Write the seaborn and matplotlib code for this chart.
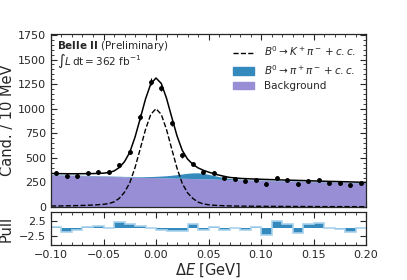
import numpy as np
import seaborn as sns
import matplotlib.pyplot as plt
from matplotlib.patches import Patch
from matplotlib.lines import Line2D

# binned data (bin centres, 10 MeV bins)
bin_centers = [-0.095, -0.085, -0.075, -0.065, -0.055, -0.045, -0.035, -0.025, -0.015, -0.005,
               0.005, 0.015, 0.025, 0.035, 0.045, 0.055, 0.065, 0.075, 0.085, 0.095,
               0.105, 0.115, 0.125, 0.135, 0.145, 0.155, 0.165, 0.175, 0.185, 0.195]
counts = [346, 315, 315, 346, 356, 356, 431, 560, 916, 1276,
          1210, 852, 526, 435, 356, 346, 299, 282, 261, 275,
          234, 295, 272, 231, 268, 272, 248, 248, 224, 248]
pulls = [0.6, -1.1, -0.6, 0.5, 0.7, 0.2, 2.0, 1.4, 0.8, 0.2,
         -0.5, -0.8, -0.8, 1.3, -0.4, 0.5, -0.4, 0.1, -0.4, 0.4,
         -1.9, 2.2, 1.3, -1.5, 1.3, 1.7, 0.0, -0.1, -1.0, 0.1]
bin_edges = [-0.1 + 0.01 * i for i in range(31)]

# fit components
x_fit = [-0.1, -0.09, -0.08, -0.07, -0.06, -0.05, -0.045, -0.04, -0.035, -0.03,
         -0.025, -0.02, -0.015, -0.01, -0.005, 0.0, 0.005, 0.01, 0.015, 0.02,
         0.025, 0.03, 0.035, 0.04, 0.045, 0.05, 0.055, 0.06, 0.065, 0.07,
         0.08, 0.09, 0.1, 0.12, 0.14, 0.16, 0.18, 0.2]
bkg = [327, 324, 321, 319, 316, 313, 312, 310, 309, 307,
       306, 305, 303, 302, 300, 299, 298, 296, 295, 293,
       292, 291, 289, 288, 286, 285, 284, 282, 281, 279,
       277, 274, 271, 265, 260, 254, 249, 243]
kpi = [10, 11, 13, 16, 20, 27, 35, 52, 88, 150,
       245, 400, 592, 788, 942, 1000, 942, 788, 590, 395,
       240, 145, 88, 50, 32, 23, 18, 15, 13, 11,
       9, 8, 7, 6, 5, 4, 4, 3]
pipi = [4, 4, 4, 4, 4, 4, 4, 4, 4, 4,
        5, 5, 6, 8, 10, 13, 17, 22, 28, 36,
        44, 52, 58, 60, 56, 47, 37, 27, 18, 11,
        5, 4, 4, 4, 4, 4, 4, 4]

bkg = np.array(bkg)
kpi = np.array(kpi)
pipi = np.array(pipi)
total = bkg + kpi + pipi

blue = "#348ABD"
purple = "#988ED5"

sns.set_style("ticks")
plt.rcParams["font.family"] = ["DejaVu Sans"]
plt.rcParams["mathtext.fontset"] = "dejavusans"

fig = plt.figure(figsize=(4.07, 2.80), dpi=100)
ax = fig.add_axes([0.1253, 0.2607, 0.774, 0.618])
axp = fig.add_axes([0.1253, 0.125, 0.774, 0.118], sharex=ax)

ax.fill_between(x_fit, 0, bkg, color=purple, lw=0)
ax.fill_between(x_fit, bkg, bkg + pipi, color=blue, lw=0)
sns.lineplot(x=x_fit, y=kpi, ax=ax, color="black", lw=1.0, linestyle="--")
sns.lineplot(x=x_fit, y=total, ax=ax, color="black", lw=1.1)
ax.errorbar(bin_centers, counts, yerr=np.sqrt(counts), fmt="o", color="black",
            ms=2.5, elinewidth=0.8, capsize=0)

ax.set_xlim(-0.1, 0.2)
ax.set_ylim(0, 1760)
ax.set_yticks([0, 250, 500, 750, 1000, 1250, 1500, 1750])
ax.set_ylabel("Cand. / 10 MeV", fontsize=10.5, labelpad=2)
ax.tick_params(labelbottom=False)

ax.text(0.019, 0.93, r"$\bf{Belle\ II}$ (Preliminary)", transform=ax.transAxes,
        fontsize=7.5, va="center")
ax.text(0.019, 0.845, r"$\int L\,\mathrm{dt} = 362\ \mathrm{fb}^{-1}$", transform=ax.transAxes,
        fontsize=7.5, va="center")

handles = [Line2D([], [], color="black", ls="--", lw=1.0),
           Patch(color=blue), Patch(color=purple)]
labels = [r"$B^0 \to K^+\pi^- + c.c.$", r"$B^0 \to \pi^+\pi^- + c.c.$", "Background"]
ax.legend(handles, labels, loc="upper right", frameon=False, fontsize=7.5,
          handlelength=2.0, handletextpad=0.9, borderaxespad=0.6, labelspacing=0.45)

axp.stairs(pulls, bin_edges, baseline=0, fill=True, facecolor=blue,
           edgecolor="#a9d2ec", lw=1.2)
axp.set_ylim(-5.2, 5.2)
axp.set_yticks([-2.5, 2.5])
axp.set_ylabel("Pull", fontsize=10.5)
axp.set_xlabel(r"$\Delta E$ [GeV]", fontsize=10.5, labelpad=1)
axp.set_xticks([-0.1, -0.05, 0.0, 0.05, 0.1, 0.15, 0.2])

for a in (ax, axp):
    a.minorticks_on()
    a.tick_params(which="both", direction="in", top=True, right=True, labelsize=8)
    a.tick_params(which="major", length=4)
    a.tick_params(which="minor", length=2)
    for s in a.spines.values():
        s.set_linewidth(0.9)
axp.yaxis.set_minor_locator(plt.NullLocator())
fig.align_ylabels([ax, axp])

fig.savefig("out.png", dpi=100)
